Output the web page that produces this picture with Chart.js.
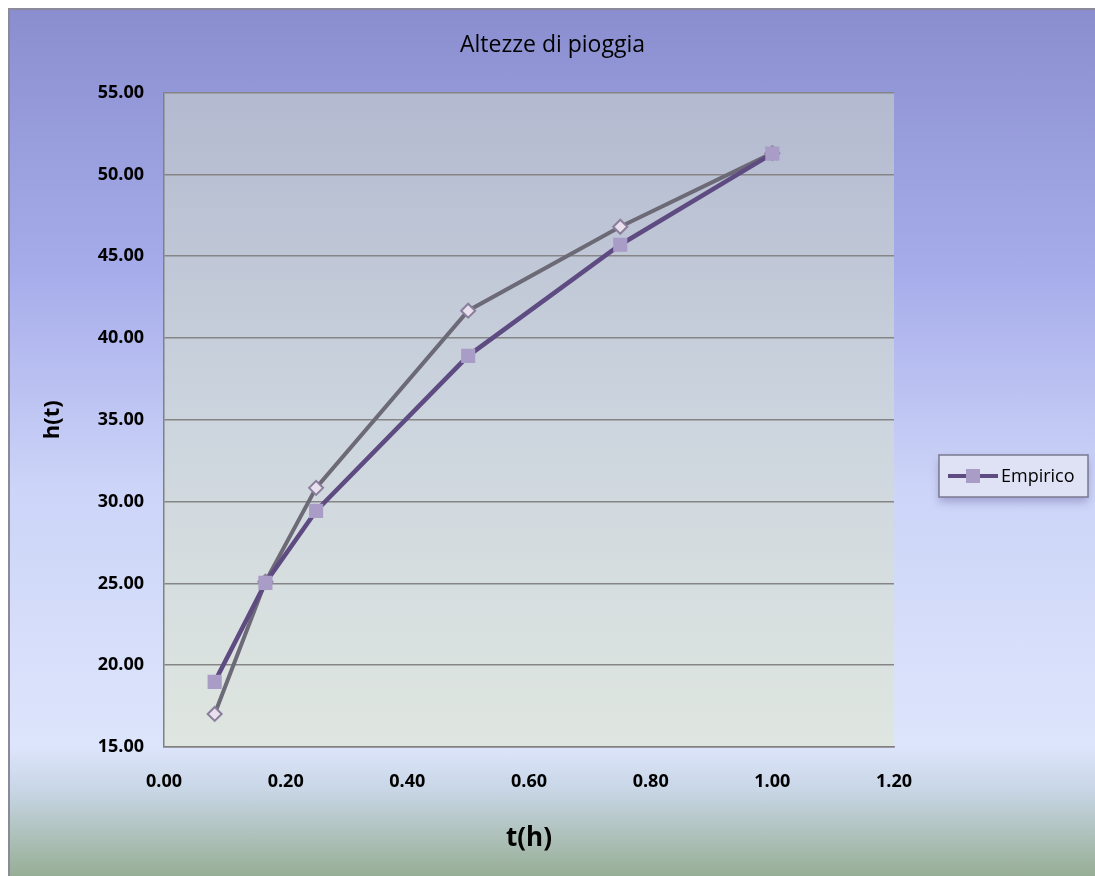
<!DOCTYPE html>
<html>
<head>
<meta charset="utf-8">
<script src="https://cdn.jsdelivr.net/npm/chart.js@4/dist/chart.umd.min.js"></script>
<style>
body { margin:0; background:#fff; }
#frame {
    position:absolute; left:8px; top:8px; width:1087px; height:868px;
    border-left:2px solid #8a8a9a; border-top:2px solid #8a8a9a; box-sizing:border-box;
    background: linear-gradient(to bottom, #8a8ecf 0%, #a6acea 30%, #ccd4f8 55%, #dde5fc 85%, #c8d6e6 90%, #97ae95 100%);
}
</style>
</head>
<body>
<div id="frame"><canvas id="chart" width="1085" height="866"></canvas></div>
<script>
// durata (ore)
const tHours = [0.0833, 0.1667, 0.25, 0.5, 0.75, 1.0];
// altezze empiriche (mm)
const hEmpirico = [18.98, 25.03, 29.43, 38.91, 45.70, 51.27];
// altezze della curva di possibilita' pluviometrica
const hCurva = [17.02, 25.10, 30.84, 41.67, 46.80, 51.30];

const xTicks = [0, 0.2, 0.4, 0.6, 0.8, 1.0, 1.2];
const yTicks = [15, 20, 25, 30, 35, 40, 45, 50, 55];

function toPoints(xs, ys) {
    return xs.map((x, i) => ({x: x, y: ys[i]}));
}

const plotBg = {
    id: 'plotBg',
    beforeDraw(chart) {
        const a = chart.chartArea, c = chart.ctx;
        const g = c.createLinearGradient(0, a.top, 0, a.bottom);
        g.addColorStop(0, '#b3b9cf');
        g.addColorStop(0.5, '#ccd5de');
        g.addColorStop(1, '#dfe6e0');
        c.save();
        c.fillStyle = g;
        c.fillRect(a.left, a.top, a.right - a.left, a.bottom - a.top);
        c.restore();
    }
};

const boxLegend = {
    id: 'boxLegend',
    afterDraw(chart) {
        const ds = chart.data.datasets[0];
        const c = chart.ctx;
        const x = 929, y = 445, w = 149, h = 42;
        c.save();
        c.shadowColor = 'rgba(80,70,140,0.35)';
        c.shadowBlur = 8;
        c.shadowOffsetY = 5;
        c.fillStyle = '#dfe2f4';
        c.fillRect(x, y, w, h);
        c.restore();
        c.save();
        c.strokeStyle = '#7a7890';
        c.lineWidth = 1.5;
        c.strokeRect(x, y, w, h);
        c.strokeStyle = ds.borderColor;
        c.lineWidth = 4;
        c.beginPath();
        c.moveTo(x + 9, y + h / 2);
        c.lineTo(x + 59, y + h / 2);
        c.stroke();
        c.fillStyle = ds.pointBackgroundColor;
        c.fillRect(x + 27, y + h / 2 - 7, 14, 14);
        c.fillStyle = '#000';
        c.font = '18px "Open Sans", sans-serif';
        c.textBaseline = 'middle';
        c.fillText(ds.label, x + 62, y + h / 2 + 1);
        c.restore();
    }
};

new Chart(document.getElementById('chart'), {
    type: 'scatter',
    data: {
        datasets: [{
            label: 'Empirico',
            data: toPoints(tHours, hEmpirico),
            showLine: true,
            borderColor: '#5e4b82',
            borderWidth: 4.5,
            pointStyle: 'rect',
            pointRadius: 10,
            pointBackgroundColor: '#a99cc6',
            pointBorderColor: '#a99cc6',
            pointBorderWidth: 0
        }, {
            label: 'Curva',
            data: toPoints(tHours, hCurva),
            showLine: true,
            borderColor: '#6d6a78',
            borderWidth: 4,
            pointStyle: 'rectRot',
            pointRadius: 7,
            pointBackgroundColor: '#e8e0ec',
            pointBorderColor: '#8a7e9c',
            pointBorderWidth: 2
        }]
    },
    options: {
        responsive: false,
        animation: false,
        layout: { padding: { left: 0, right: 0, top: 0, bottom: 18 } },
        plugins: {
            legend: { display: false },
            tooltip: { enabled: false },
            title: {
                display: true,
                text: 'Altezze di pioggia',
                color: '#000',
                font: { family: '"Open Sans", sans-serif', size: 23, weight: 'normal' },
                padding: { top: 22, bottom: 33 }
            }
        },
        scales: {
            x: {
                type: 'linear',
                min: 0, max: 1.2,
                afterBuildTicks(s) { s.ticks = xTicks.map(v => ({value: v})); },
                afterFit(s) { s.height = 111; },
                grid: { display: false, drawTicks: false },
                border: { display: true, color: '#808080', width: 1.5 },
                ticks: {
                    color: '#000', padding: 24,
                    font: { family: '"Open Sans", sans-serif', size: 18, weight: 'bold' },
                    callback: v => v.toFixed(2)
                },
                title: {
                    display: true, text: 't(h)', color: '#000',
                    font: { family: '"Open Sans", sans-serif', size: 26, weight: 'bold' },
                    padding: { top: 14 }
                }
            },
            y: {
                min: 15, max: 55,
                afterBuildTicks(s) { s.ticks = yTicks.map(v => ({value: v})); },
                afterFit(s) { s.width = 154; },
                grid: { color: '#858585', lineWidth: 1.5, drawTicks: false },
                border: { display: true, color: '#808080', width: 1.5 },
                ticks: {
                    color: '#000', padding: 20,
                    font: { family: '"Open Sans", sans-serif', size: 18, weight: 'bold' },
                    callback: v => v.toFixed(2)
                },
                title: {
                    display: true, text: 'h(t)', color: '#000',
                    font: { family: '"Open Sans", sans-serif', size: 22, weight: 'bold' },
                    padding: { top: 30, bottom: 0 }
                }
            },
            // spazio vuoto a destra per la legenda
            yRight: {
                position: 'right',
                min: 15, max: 55,
                afterFit(s) { s.width = 201; },
                grid: { display: false },
                border: { display: false },
                ticks: { display: false }
            }
        }
    },
    plugins: [plotBg, boxLegend]
});
</script>
</body>
</html>
